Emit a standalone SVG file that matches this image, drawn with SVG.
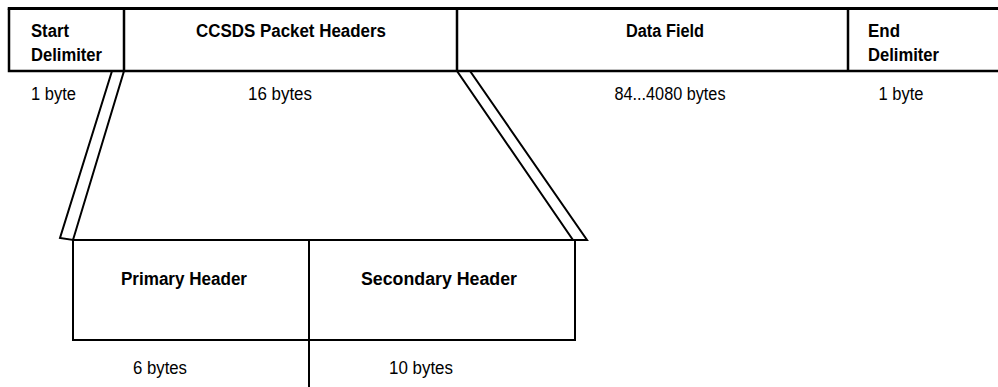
<svg xmlns="http://www.w3.org/2000/svg" width="998" height="387" viewBox="0 0 998 387">
<style>
.box{fill:none;stroke:#000;stroke-width:2.5}
.top{fill:none;stroke:#000;stroke-width:3}
.sub{fill:none;stroke:#000;stroke-width:2}
.lbl{font-family:"Liberation Sans",Arial,sans-serif;font-size:18px;font-weight:bold;fill:#000}
.sz{font-family:"Liberation Sans",Arial,sans-serif;font-size:18px;fill:#000}
.strip{fill:#fff;stroke:#000;stroke-width:2;stroke-linejoin:miter}
</style>
<rect width="998" height="387" fill="#fff"/>
<g id="connectors">
<polygon class="strip" points="112,71 124,71 73,240 60,238"/>
<polygon class="strip" points="457,71 470,71 587,240 573,240"/>
</g>
<g id="start-delimiter">
<path class="box" d="M124,71 H9 V8.5"/>
<text class="lbl" x="31" y="37" textLength="38" lengthAdjust="spacingAndGlyphs">Start</text>
<text class="lbl" x="31" y="61" textLength="71" lengthAdjust="spacingAndGlyphs">Delimiter</text>
<text class="sz" x="31" y="100" textLength="45" lengthAdjust="spacingAndGlyphs">1 byte</text>
</g>
<g id="ccsds-packet-headers">
<path class="box" d="M124,8.5 V71 H457 M457,8.5 V71"/>
<text class="lbl" x="291" y="37" text-anchor="middle" textLength="190" lengthAdjust="spacingAndGlyphs">CCSDS Packet Headers</text>
<text class="sz" x="280" y="100" text-anchor="middle" textLength="64" lengthAdjust="spacingAndGlyphs">16 bytes</text>
</g>
<g id="data-field">
<path class="box" d="M457,71 H848 M848,8.5 V71"/>
<text class="lbl" x="665" y="37" text-anchor="middle" textLength="78" lengthAdjust="spacingAndGlyphs">Data Field</text>
<text class="sz" x="670" y="100" text-anchor="middle" textLength="111" lengthAdjust="spacingAndGlyphs">84...4080 bytes</text>
</g>
<g id="end-delimiter">
<path class="box" d="M848,71 H1000"/>
<text class="lbl" x="868" y="37" textLength="32" lengthAdjust="spacingAndGlyphs">End</text>
<text class="lbl" x="868" y="61" textLength="71" lengthAdjust="spacingAndGlyphs">Delimiter</text>
<text class="sz" x="901" y="100" text-anchor="middle" textLength="45" lengthAdjust="spacingAndGlyphs">1 byte</text>
</g>
<path class="top" d="M7.75,8.5 H1000"/>
<g id="primary-header">
<path class="sub" d="M309,240 H73 V340 H309"/>
<text class="lbl" x="184" y="285" text-anchor="middle" textLength="126" lengthAdjust="spacingAndGlyphs">Primary Header</text>
<text class="sz" x="160" y="374" text-anchor="middle" textLength="54" lengthAdjust="spacingAndGlyphs">6 bytes</text>
</g>
<g id="secondary-header">
<path class="sub" d="M309,240 H575 V340 H309 M309,240 V387"/>
<text class="lbl" x="439" y="285" text-anchor="middle" textLength="156" lengthAdjust="spacingAndGlyphs">Secondary Header</text>
<text class="sz" x="421" y="374" text-anchor="middle" textLength="64" lengthAdjust="spacingAndGlyphs">10 bytes</text>
</g>
</svg>
